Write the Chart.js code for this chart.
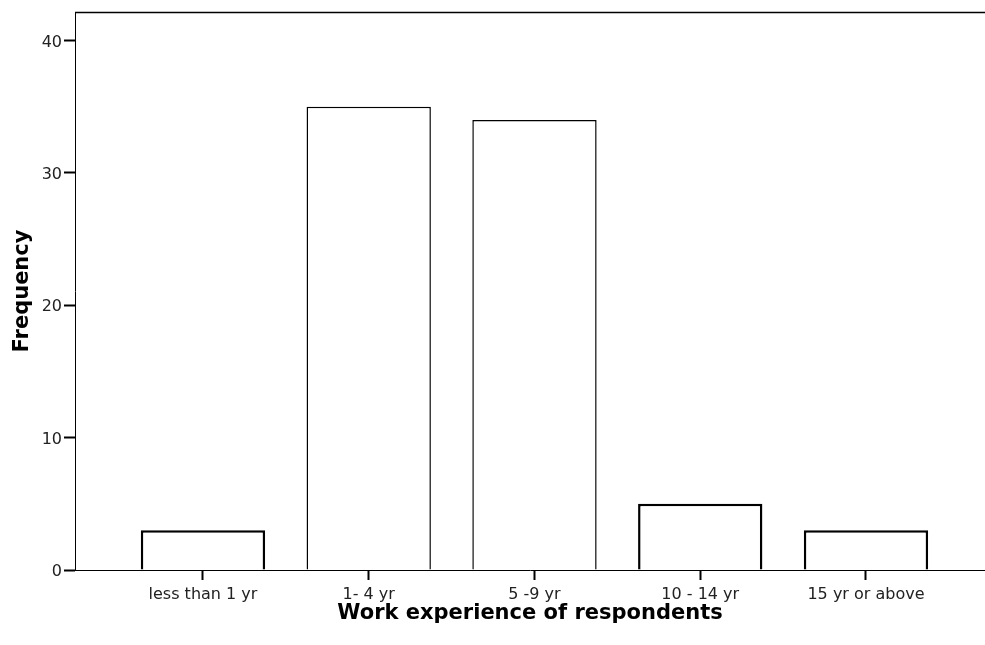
<!DOCTYPE html>
<html>
<head>
<meta charset="utf-8">
<script src="https://cdn.jsdelivr.net/npm/chart.js@4"></script>
<style>
  html, body { margin: 0; padding: 0; background: #fff; }
  #wrap { width: 985px; height: 645px; position: relative; }
</style>
</head>
<body>
<div id="wrap"><canvas id="c"></canvas></div>
<script>
// ---- data ----
const categories = ["less than 1 yr", "1- 4 yr", "5 -9 yr", "10 - 14 yr", "15 yr or above"];
const frequencies = [3, 35, 34, 5, 3];
const yTicks = [0, 10, 20, 30, 40];
const xTitle = "Work experience of respondents";
const yTitle = "Frequency";

const points = frequencies.map((v, i) => ({ x: i, y: v }));

const topFrame = {
  id: 'topFrame',
  afterDraw(chart) {
    const { ctx, chartArea } = chart;
    ctx.save();
    ctx.strokeStyle = '#000';
    ctx.lineWidth = 1.5;
    ctx.beginPath();
    ctx.moveTo(chartArea.left, chartArea.top + 0.5);
    ctx.lineTo(chartArea.right, chartArea.top + 0.5);
    ctx.stroke();
    ctx.restore();
  }
};

new Chart(document.getElementById('c'), {
  type: 'bar',
  data: {
    datasets: [{
      data: points,
      backgroundColor: '#ffffff',
      borderColor: '#000000',
      borderWidth: [2.5, 1.5, 1.5, 2.5, 2.5],
      borderSkipped: 'start',
      categoryPercentage: 1.0,
      barPercentage: 0.75
    }]
  },
  plugins: [topFrame],
  options: {
    responsive: true,
    maintainAspectRatio: false,
    animation: false,
    layout: { padding: { top: 12, right: 0, left: 0, bottom: 0 } },
    plugins: { legend: { display: false }, tooltip: { enabled: false } },
    scales: {
      x: {
        type: 'linear',
        min: -0.772,
        max: 4.718,
        offset: false,
        afterFit(scale) { scale.height = 75; },
        afterBuildTicks(scale) { scale.ticks = categories.map((c, i) => ({ value: i })); },
        grid: { display: true, drawOnChartArea: false, drawTicks: true, tickLength: 10, tickColor: '#000', tickWidth: 2, offset: false },
        border: { display: true, color: '#000', width: 1 },
        ticks: {
          autoSkip: false,
          maxRotation: 0,
          padding: 5,
          color: '#222',
          font: { family: 'DejaVu Sans', size: 16 },
          callback: (v) => categories[v] !== undefined ? categories[v] : ''
        },
        title: {
          display: true,
          text: xTitle,
          color: '#000',
          font: { family: 'DejaVu Sans', size: 21, weight: 'bold' },
          padding: { top: 0, bottom: 19 }
        }
      },
      y: {
        min: 0,
        max: 42.15,
        afterFit(scale) { scale.width = 75; },
        afterBuildTicks(scale) { scale.ticks = yTicks.map(v => ({ value: v })); },
        grid: { display: true, drawOnChartArea: false, drawTicks: true, tickLength: 11, tickColor: '#000', tickWidth: 2 },
        border: { display: true, color: '#000', width: 1 },
        ticks: {
          padding: 2,
          labelOffset: 2,
          color: '#222',
          font: { family: 'DejaVu Sans', size: 16 }
        },
        title: {
          display: true,
          text: yTitle,
          color: '#000',
          font: { family: 'DejaVu Sans', size: 21, weight: 'bold' },
          padding: { top: 10, bottom: 0 }
        }
      }
    }
  }
});
</script>
</body>
</html>
